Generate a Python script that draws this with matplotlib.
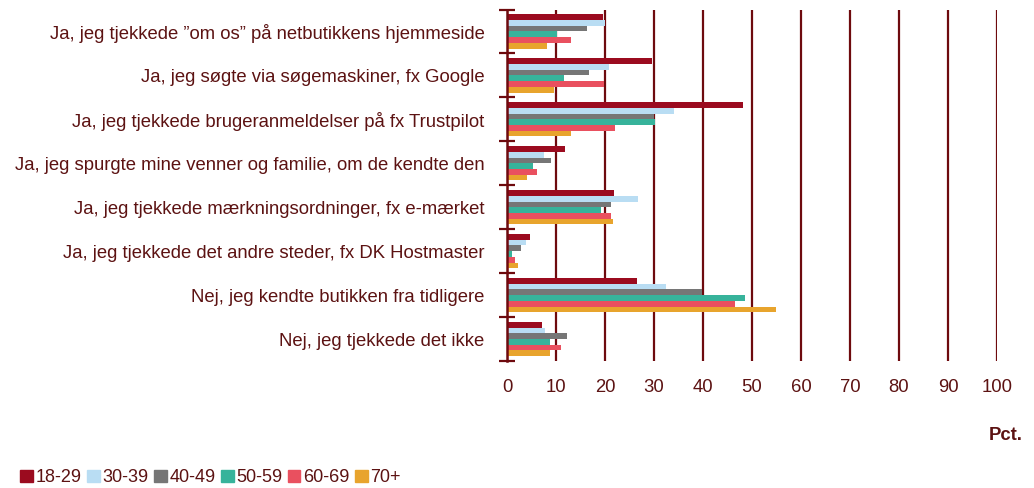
import numpy as np
import matplotlib
matplotlib.use('Agg')
import matplotlib.pyplot as plt
from matplotlib.patches import Patch

plt.rcParams['font.family'] = ['Liberation Sans', 'DejaVu Sans']

categories = [
    'Ja, jeg tjekkede \u201dom os\u201d på netbutikkens hjemmeside',
    'Ja, jeg søgte via søgemaskiner, fx Google',
    'Ja, jeg tjekkede brugeranmeldelser på fx Trustpilot',
    'Ja, jeg spurgte mine venner og familie, om de kendte den',
    'Ja, jeg tjekkede mærkningsordninger, fx e-mærket',
    'Ja, jeg tjekkede det andre steder, fx DK Hostmaster',
    'Nej, jeg kendte butikken fra tidligere',
    'Nej, jeg tjekkede det ikke',
]
groups = ['18-29', '30-39', '40-49', '50-59', '60-69', '70+']

v18_29 = [19.6, 29.6, 48.2, 11.8, 21.8, 4.6, 26.5, 7.2]
v30_39 = [20.1, 20.8, 34.0, 7.5, 26.8, 3.9, 32.4, 7.8]
v40_49 = [16.4, 16.8, 30.1, 8.9, 21.3, 2.9, 39.7, 12.2]
v50_59 = [10.3, 11.7, 30.2, 5.4, 19.1, 1.1, 48.6, 8.8]
v60_69 = [13.0, 19.7, 22.0, 6.1, 21.3, 1.7, 46.5, 11.0]
v70 = [8.2, 9.6, 13.0, 4.1, 21.6, 2.3, 55.0, 8.8]
series = [v18_29, v30_39, v40_49, v50_59, v60_69, v70]

colors = ['#9B0B1F', '#B9DDF3', '#767676', '#37B39B', '#E9505F', '#E8A42D']
txt = '#5C1212'
grid_c = '#6E0A0E'
fs = 13.3

fig = plt.figure(figsize=(10.34, 4.88), dpi=100)
ax = fig.add_axes([0.4903, 0.2602, 0.4739, 0.7203])

y = np.arange(len(categories))
bh = 0.13
for i, vals in enumerate(series):
    ax.barh(y - 0.39 + bh * (i + 0.5), vals, height=bh, color=colors[i],
            zorder=3)

ax.set_xlim(0, 100)
ax.set_ylim(len(categories) - 0.5, -0.5)
ax.set_xticks(np.arange(0, 101, 10))
ax.xaxis.grid(True, color=grid_c, linewidth=1.6, zorder=1)
ax.tick_params(axis='x', length=0, labelsize=fs, colors=txt, pad=13)

# category boundaries get the small ticks, labels sit in the middle
ax.set_yticks(np.arange(-0.5, len(categories) + 0.5, 1), minor=False)
ax.set_yticklabels([])
ax.set_yticks(y, minor=True)
ax.set_yticklabels(categories, minor=True)
ax.tick_params(axis='y', which='major', direction='inout', length=11,
               width=1.6, color=grid_c)
ax.tick_params(axis='y', which='minor', length=0, labelsize=fs,
               colors=txt, pad=16)

for s in ['top', 'right', 'bottom']:
    ax.spines[s].set_visible(False)
ax.spines['left'].set_color(grid_c)
ax.spines['left'].set_linewidth(1.8)
ax.spines['left'].set_zorder(4)

fig.text(0.989, 0.108, 'Pct.', ha='right', va='center', fontsize=fs,
         fontweight='bold', color=txt)

handles = [Patch(color=c, label=g) for c, g in zip(colors, groups)]
leg = fig.legend(handles=handles, loc='lower left', bbox_to_anchor=(0.004, -0.03),
                 ncol=6, frameon=False, fontsize=13, handlelength=0.7,
                 handleheight=0.7, handletextpad=0.15, columnspacing=0.3)
for t in leg.get_texts():
    t.set_color(txt)

fig.savefig('out.png', dpi=100)
